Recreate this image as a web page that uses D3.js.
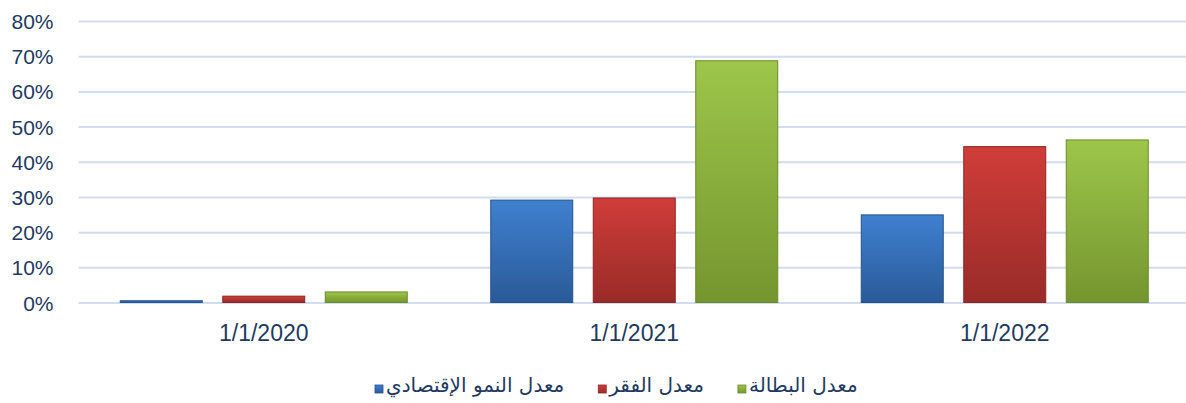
<!DOCTYPE html>
<html>
<head>
<meta charset="utf-8">
<script src="https://cdn.jsdelivr.net/npm/d3@7"></script>
<style>
    body { margin: 0; background: #ffffff; }
    #chart-area { width: 1186px; height: 403px; overflow: hidden; }
</style>
</head>
<body>
<div id="chart-area"></div>
<script>
// data
let dates = ["1/1/2020", "1/1/2021", "1/1/2022"];
let seriesNames = ["معدل النمو الإقتصادي", "معدل الفقر", "معدل البطالة"];
let growthRate = [0.005, 0.291, 0.249];
let povertyRate = [0.018, 0.297, 0.443];
let unemploymentRate = [0.030, 0.687, 0.462];
let yTicks = [0, 0.1, 0.2, 0.3, 0.4, 0.5, 0.6, 0.7, 0.8];

let seriesColors = [
    {top: "#3f80cf", bottom: "#2a5a98", line: "#24528c"},
    {top: "#d03d39", bottom: "#992b28", line: "#8e2523"},
    {top: "#9dc64b", bottom: "#75952e", line: "#6b8a29"}
];

class BarChart {

    constructor(parentElement) {
        this.parentElement = parentElement;
    }

    initVis() {
        let vis = this;

        vis.width = 1186;
        vis.height = 403;
        vis.plot = {left: 78.5, right: 1190, top: 21, bottom: 302.5};

        vis.svg = d3.select("#" + vis.parentElement)
            .append("svg")
            .attr("width", vis.width)
            .attr("height", vis.height);

        // gradients for the bars
        let defs = vis.svg.append("defs");
        seriesColors.forEach(function(c, i) {
            let g = defs.append("linearGradient")
                .attr("id", "grad" + i)
                .attr("x1", 0).attr("y1", 0)
                .attr("x2", 0).attr("y2", 1);
            g.append("stop").attr("offset", "0%").attr("stop-color", c.top);
            g.append("stop").attr("offset", "100%").attr("stop-color", c.bottom);
        });

        // Scales
        vis.x = d3.scaleBand()
            .domain(dates)
            .range([vis.plot.left, vis.plot.right])
            .paddingInner(0.2254)
            .paddingOuter(0.1127);
        vis.xInner = d3.scaleBand()
            .domain(d3.range(seriesNames.length))
            .range([0, vis.x.bandwidth()])
            .paddingInner(0.2)
            .paddingOuter(0);
        vis.y = d3.scaleLinear()
            .domain([0, 0.8])
            .range([vis.plot.bottom, vis.plot.top]);

        vis.wrangleData();
    }

    wrangleData() {
        let vis = this;

        let values = [growthRate, povertyRate, unemploymentRate];
        vis.displayData = [];
        dates.forEach(function(d, i) {
            values.forEach(function(s, j) {
                vis.displayData.push({date: d, series: j, value: s[i]});
            });
        });

        vis.updateVis();
    }

    updateVis() {
        let vis = this;

        // gridlines + y labels
        let yAxis = d3.axisLeft(vis.y)
            .tickValues(yTicks)
            .tickFormat(d3.format(".0%"))
            .tickSize(-(vis.width - vis.plot.left))
            .tickPadding(25);
        let yG = vis.svg.append("g")
            .attr("class", "y-axis axis")
            .attr("transform", "translate(" + vis.plot.left + ",0)")
            .call(yAxis);
        yG.select(".domain").remove();
        yG.selectAll(".tick line")
            .attr("stroke", "#d0ddee")
            .attr("stroke-width", 2);
        yG.selectAll(".tick text")
            .attr("fill", "#1f3a60")
            .attr("font-family", "'Liberation Sans', sans-serif")
            .attr("font-size", "21px")
            .attr("dy", "0.36em");

        // Bars
        vis.svg.append("g")
            .selectAll("rect")
            .data(vis.displayData)
            .enter()
            .append("rect")
            .attr("x", d => vis.x(d.date) + vis.xInner(d.series))
            .attr("y", d => vis.y(d.value))
            .attr("width", vis.xInner.bandwidth())
            .attr("height", d => vis.y(0) - vis.y(d.value))
            .attr("fill", d => "url(#grad" + d.series + ")")
            .attr("stroke", d => seriesColors[d.series].line)
            .attr("stroke-width", 1);

        // category labels
        let xAxis = d3.axisBottom(vis.x)
            .tickSize(0)
            .tickPadding(0);
        let xG = vis.svg.append("g")
            .attr("class", "x-axis axis")
            .attr("transform", "translate(0," + vis.plot.bottom + ")")
            .call(xAxis);
        xG.select(".domain").remove();
        xG.selectAll(".tick text")
            .attr("y", 38)
            .attr("dy", 0)
            .attr("fill", "#1f3a60")
            .attr("font-family", "'Liberation Sans', sans-serif")
            .attr("font-size", "23px");

        // Legend
        let legend = vis.svg.append("g").attr("class", "legend");
        let lx = 375;
        seriesNames.forEach(function(name, i) {
            legend.append("rect")
                .attr("x", lx)
                .attr("y", 385)
                .attr("width", 8)
                .attr("height", 8)
                .attr("fill", "url(#grad" + i + ")")
                .attr("stroke", seriesColors[i].line)
                .attr("stroke-width", 0.8);
            let t = legend.append("text")
                .attr("x", lx + 11)
                .attr("y", 392)
                .attr("fill", "#1f3a60")
                .attr("font-family", "'DejaVu Sans', sans-serif")
                .attr("font-size", "20px")
                .text(name);
            lx += 11 + t.node().getComputedTextLength() + 34;
        });
    }
}

let chart = new BarChart("chart-area");
chart.initVis();
</script>
</body>
</html>
